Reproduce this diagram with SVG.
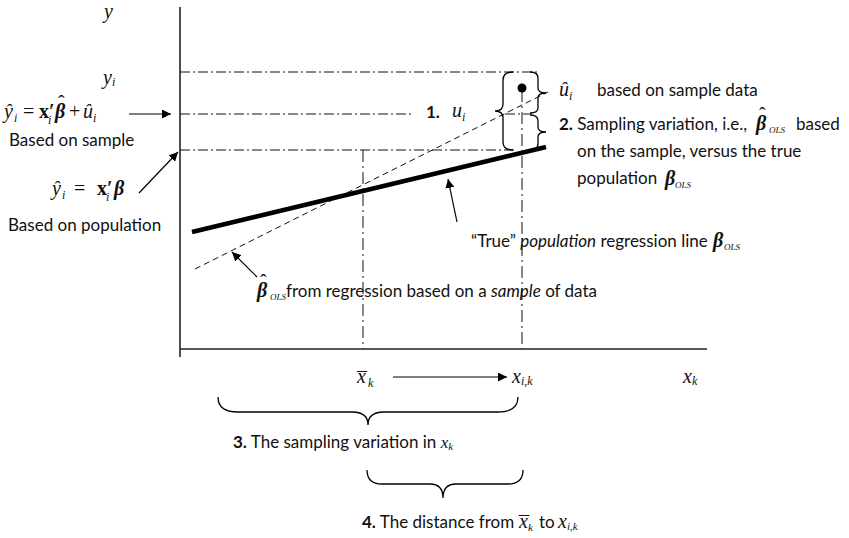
<svg xmlns="http://www.w3.org/2000/svg" width="849" height="538" viewBox="0 0 849 538">
<defs>
<style>
.ax{stroke:#222;stroke-width:1.6;fill:none}
.dd{stroke:#111;stroke-width:1;fill:none;stroke-dasharray:10,3,2,3}
.vd{stroke:#111;stroke-width:1;fill:none;stroke-dasharray:12,4,2,4}
.ds{stroke:#111;stroke-width:1;fill:none;stroke-dasharray:6,4}
.thick{stroke:#000;stroke-width:4.5;fill:none}
.ar{stroke:#000;stroke-width:1.2;fill:none;marker-end:url(#ah)}
.br{stroke:#000;stroke-width:1.3;fill:none}
.s{font-family:Lato,"Open Sans","Liberation Sans",sans-serif;font-size:17px;fill:#111}
.b{font-weight:bold}
.m{font-family:"Liberation Serif","Times New Roman",serif;font-style:italic;font-size:20px;fill:#111}
.up{font-style:normal}
.bf{font-weight:bold;font-style:normal}
.bi{font-weight:bold;font-style:italic}
.sub{font-size:12px}
.ols{font-size:9px}
</style>
<marker id="ah" viewBox="0 0 10 10" refX="10" refY="5" markerWidth="9" markerHeight="9" markerUnits="userSpaceOnUse" orient="auto">
<path d="M0,0 L10,5 L0,10 z" fill="#000"/>
</marker>
</defs>

<g id="axes">
<line class="ax" x1="180" y1="7" x2="180" y2="357"/>
<line class="ax" x1="180" y1="349" x2="707" y2="349"/>
</g>

<g id="guides">
<line class="dd" x1="180" y1="72" x2="540" y2="72"/>
<line class="dd" x1="180" y1="114" x2="413" y2="114"/>
<line class="dd" x1="505" y1="114" x2="532" y2="114"/>
<line class="dd" x1="180" y1="150" x2="515" y2="150"/>
<line class="vd" x1="363" y1="150" x2="363" y2="349"/>
<line class="vd" x1="522" y1="90" x2="522" y2="349"/>
</g>

<g id="lines">
<line class="thick" x1="192" y1="232" x2="546" y2="147"/>
<line class="ds" x1="195" y1="269" x2="548" y2="92"/>
<circle cx="522" cy="88" r="4.5" fill="#000"/>
</g>

<g id="braces">
<path class="br" d="M513,72 Q503,72 503,80 L503,104 Q503,111 495,111 Q503,111 503,118 L503,142 Q503,150 513,150"/>
<path class="br" d="M530,72 Q538,72 538,78 L538,88 Q538,93 546,93 Q538,93 538,98 L538,108 Q538,113 530,113"/>
<path class="br" d="M530,115 Q538,115 538,121 L538,127 Q538,132 546,132 Q538,132 538,137 L538,144 Q538,150 530,150"/>
<path class="br" d="M218,397 Q218,412 238,412 L352,412 Q368,412 368,425 Q368,412 384,412 L498,412 Q518,412 518,397"/>
<path class="br" d="M367,470 Q367,484 382,484 L430,484 Q443,484 443,498 Q443,484 456,484 L508,484 Q523,484 523,470"/>
</g>

<g id="connectors">
<line class="ar" x1="129" y1="114" x2="171" y2="114"/>
<line class="ar" x1="139" y1="193" x2="178" y2="152"/>
<line class="ar" x1="457" y1="222" x2="448" y2="179"/>
<line class="ar" x1="257" y1="277" x2="232" y2="252"/>
<line class="ar" x1="393" y1="377" x2="507" y2="377"/>
</g>

<g id="label-y">
<text class="m" x="104" y="18">y</text>
<text class="m" x="103" y="84">y<tspan class="sub" dy="2">i</tspan></text>
</g>

<g id="label-yhat-sample">
<text class="m"><tspan x="4" y="118">ŷ</tspan><tspan class="sub" x="14" y="122">i</tspan><tspan class="up" x="23" y="118">=</tspan><tspan class="bf" x="39" y="118">x′</tspan><tspan class="sub" x="48" y="124">i</tspan><tspan class="bi" x="55" y="118">β</tspan><tspan class="up" x="58" y="110">ˆ</tspan><tspan class="up" x="69" y="118">+</tspan><tspan x="83" y="118">û</tspan><tspan class="sub" x="93" y="122">i</tspan></text>
<text class="s" x="9" y="146">Based on sample</text>
</g>

<g id="label-yhat-pop">
<text class="m"><tspan x="52" y="195">ŷ</tspan><tspan class="sub" x="62" y="199">i</tspan><tspan class="up" x="74" y="195">=</tspan><tspan class="bf" x="97" y="195">x′</tspan><tspan class="sub" x="106" y="201">i</tspan><tspan class="bi" x="114" y="195">β</tspan></text>
<text class="s" x="8" y="231">Based on population</text>
</g>

<g id="label-1">
<text class="s b" x="426" y="118">1.</text>
<text class="m" x="452" y="117" font-size="21">u<tspan class="sub" dy="4">i</tspan></text>
</g>

<g id="label-uhat">
<text class="m" x="559" y="96">û<tspan class="sub" dy="4">i</tspan></text>
<text class="s" x="597" y="96">based on sample data</text>
</g>

<g id="label-2">
<text class="s" x="559" y="130"><tspan class="b">2.</tspan> Sampling variation, i.e.,</text>
<text class="m"><tspan class="bi" x="756" y="130">β</tspan><tspan class="up" x="759" y="122">ˆ</tspan><tspan class="ols" x="769" y="133">OLS</tspan></text>
<text class="s" x="796" y="130">based</text>
<text class="s" x="577" y="157">on the sample, versus the true</text>
<text class="s" x="577" y="184">population</text>
<text class="m" font-size="18"><tspan class="bi" x="665" y="185">β</tspan><tspan class="ols" x="675" y="188" font-size="8">OLS</tspan></text>
</g>

<g id="label-true">
<text class="s" x="471" y="247">“True” <tspan font-style="italic">population</tspan> regression line</text>
<text class="m" font-size="18"><tspan class="bi" x="713" y="247">β</tspan><tspan class="ols" x="724" y="250">OLS</tspan></text>
</g>

<g id="label-sample">
<text class="m"><tspan class="bi" x="257" y="297">β</tspan><tspan class="up" x="260" y="289">ˆ</tspan><tspan class="ols" x="270" y="300">OLS</tspan></text>
<text class="s" x="286" y="297">from regression based on a <tspan font-style="italic">sample</tspan> of data</text>
</g>

<g id="label-xaxis">
<text class="m"><tspan x="357" y="383">x</tspan><tspan class="up" x="357" y="387">¯</tspan><tspan class="sub" x="368" y="387">k</tspan></text>
<text class="m" x="512" y="383">x<tspan class="sub" dy="2">i,k</tspan></text>
<text class="m" x="683" y="383">x<tspan class="sub" dy="2">k</tspan></text>
</g>

<g id="label-3">
<text class="s" x="233" y="448"><tspan class="b">3.</tspan> The sampling variation in <tspan font-family="Liberation Serif, serif" font-style="italic" font-size="17">x</tspan><tspan font-family="Liberation Serif, serif" font-style="italic" font-size="11" dy="2">k</tspan></text>
</g>

<g id="label-4">
<text class="s" x="362" y="528"><tspan class="b">4.</tspan> The distance from</text>
<text class="m" font-size="17"><tspan x="519" y="528">x</tspan><tspan class="up" x="519" y="531">¯</tspan><tspan font-size="11" x="528" y="531">k</tspan></text>
<text class="s" x="539" y="528">to</text>
<text class="m" x="558" y="528" font-size="17">x<tspan font-size="11" dy="2">i,k</tspan></text>
</g>
</svg>
